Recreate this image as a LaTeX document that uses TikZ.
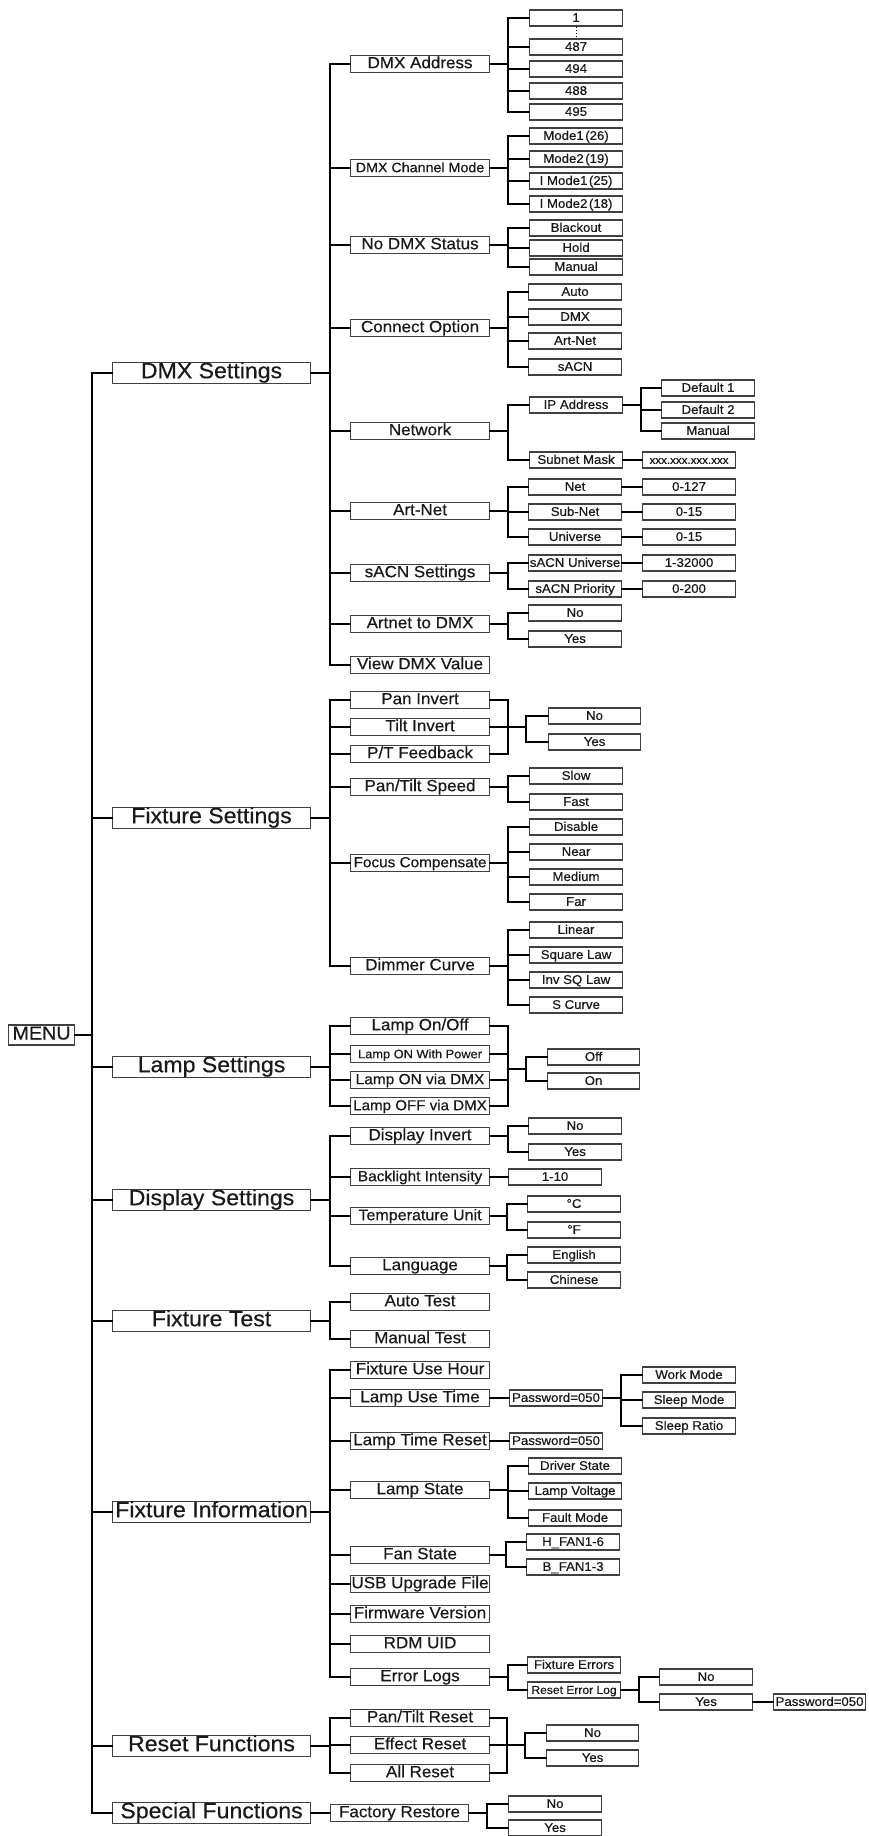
\documentclass[tikz,border=0pt]{standalone}
\usepackage{fontspec}
\setmainfont[FakeStretch=1.05,FakeBold=0.5]{Liberation Sans}
\usetikzlibrary{calc}
\tikzset{
  bx/.style={draw=black!75, line width=1.1pt, anchor=west, inner xsep=0pt, text=black!90, align=center},
  mainbox/.style={bx, minimum width=198pt, minimum height=21pt, inner ysep=0.5pt, text height=15.2pt, text depth=4.8pt, font=\fontsize{22}{22}\selectfont},
  menubox/.style={bx, minimum width=66pt, minimum height=20pt, inner ysep=1pt, text height=13.5pt, text depth=4.5pt, font=\fontsize{18.8}{18.8}\selectfont},
  lone/.style={bx, minimum width=139pt, minimum height=17pt, inner ysep=0.3pt, text height=12.4pt, text depth=4pt, font=\fontsize{16.2}{16.2}\selectfont},
  ltwo/.style={bx, minimum width=93pt, minimum height=16pt, inner ysep=0.3pt, text height=11.6pt, text depth=3.8pt, font=\fontsize{12.6}{12.6}\selectfont},
  conn/.style={draw=black, line width=1.4pt, line cap=rect},
}
\newcommand\fs[1]{\fontsize{#1}{#1}\selectfont}
% parent, branch x, first child, last child, all children
\newcommand\fork[5]{%
  \coordinate (#1-b) at (#2,0);
  \draw[conn] (#1.east) -- (#1-b |- #1.east);
  \draw[conn] (#1-b |- #3.west) -- (#1-b |- #4.west);
  \foreach \c in {#5} {\draw[conn] (#1-b |- \c.west) -- (\c.west);}
}
\begin{document}
\begin{tikzpicture}[x=1pt,y=-1pt]
\useasboundingbox (0,0) rectangle (868,1836);

% ---------- MENU and main level ----------
\node[menubox] (menu) at (8,1035) {MENU};
\node[mainbox] (dmxs) at (112,373) {DMX Settings};
\node[mainbox] (fixs) at (112,818) {Fixture Settings};
\node[mainbox] (lamps) at (112,1067) {Lamp Settings};
\node[mainbox] (disp) at (112,1200) {Display Settings};
\node[mainbox] (ftest) at (112,1321) {Fixture Test};
\node[mainbox] (finfo) at (112,1512) {Fixture Information};
\node[mainbox] (reset) at (112,1746) {Reset Functions};
\node[mainbox] (spec) at (112,1813) {Special Functions};
\fork{menu}{92}{dmxs}{spec}{dmxs,fixs,lamps,disp,ftest,finfo,reset,spec}

% ---------- DMX Settings ----------
\node[lone] (da) at (350,64) {DMX Address};
\node[lone, font=\fs{13.6}] (dcm) at (350,168) {DMX Channel Mode};
\node[lone] (nds) at (350,245) {No DMX Status};
\node[lone] (co) at (350,328) {Connect Option};
\node[lone] (net) at (350,431) {Network};
\node[lone] (an) at (350,511) {Art-Net};
\node[lone] (sacn) at (350,573) {sACN Settings};
\node[lone] (a2d) at (350,624) {Artnet to DMX};
\node[lone] (vdv) at (350,665) {View DMX Value};
\fork{dmxs}{330}{da}{vdv}{da,dcm,nds,co,net,an,sacn,a2d,vdv}

\node[ltwo] (a1) at (529,18) {1};
\node[ltwo] (a487) at (529,47) {487};
\node[ltwo] (a494) at (529,69) {494};
\node[ltwo] (a488) at (529,91) {488};
\node[ltwo] (a495) at (529,112) {495};
\draw[dash pattern=on 1pt off 2pt, line width=0.8pt] (a1.south) -- (a487.north);
\fork{da}{508}{a1}{a495}{a1,a487,a494,a488,a495}

\node[ltwo] (m1) at (529,136) {Mode1\kern1.5pt(26)};
\node[ltwo] (m2) at (529,159) {Mode2\kern1.5pt(19)};
\node[ltwo] (im1) at (529,181) {I Mode1\kern1.5pt(25)};
\node[ltwo] (im2) at (529,204) {I Mode2\kern1.5pt(18)};
\fork{dcm}{508}{m1}{im2}{m1,m2,im1,im2}

\node[ltwo] (bo) at (529,228) {Blackout};
\node[ltwo] (hold) at (529,248) {Hold};
\node[ltwo] (nman) at (529,267) {Manual};
\fork{nds}{508}{bo}{nman}{bo,hold,nman}

\node[ltwo] (cauto) at (528,292) {Auto};
\node[ltwo] (cdmx) at (528,317) {DMX};
\node[ltwo] (cart) at (528,341) {Art-Net};
\node[ltwo] (csacn) at (528,367) {sACN};
\fork{co}{508}{cauto}{csacn}{cauto,cdmx,cart,csacn}

\node[ltwo] (ip) at (529,405) {IP Address};
\node[ltwo] (sub) at (529,460) {Subnet Mask};
\fork{net}{508}{ip}{sub}{ip,sub}
\node[ltwo] (d1) at (661,388) {Default 1};
\node[ltwo] (d2) at (661,410) {Default 2};
\node[ltwo] (dman) at (661,431) {Manual};
\fork{ip}{641}{d1}{dman}{d1,d2,dman}
\node[ltwo, font=\fs{11}] (xxx) at (642,460) {xxx.xxx.xxx.xxx};
\draw[conn] (sub) -- (xxx);

\node[ltwo] (nnet) at (528,487) {Net};
\node[ltwo] (snet) at (528,512) {Sub-Net};
\node[ltwo] (univ) at (528,537) {Universe};
\fork{an}{508}{nnet}{univ}{nnet,snet,univ}
\node[ltwo] (v127) at (642,487) {0-127};
\node[ltwo] (v15a) at (642,512) {0-15};
\node[ltwo] (v15b) at (642,537) {0-15};
\draw[conn] (nnet) -- (v127);
\draw[conn] (snet) -- (v15a);
\draw[conn] (univ) -- (v15b);

\node[ltwo] (su) at (528,563) {sACN Universe};
\node[ltwo] (sp) at (528,589) {sACN Priority};
\fork{sacn}{508}{su}{sp}{su,sp}
\node[ltwo] (v32k) at (642,563) {1-32000};
\node[ltwo] (v200) at (642,589) {0-200};
\draw[conn] (su) -- (v32k);
\draw[conn] (sp) -- (v200);

\node[ltwo] (ano) at (528,613) {No};
\node[ltwo] (ayes) at (528,639) {Yes};
\fork{a2d}{508}{ano}{ayes}{ano,ayes}

% ---------- Fixture Settings ----------
\node[lone] (pi) at (350,700) {Pan Invert};
\node[lone] (ti) at (350,727) {Tilt Invert};
\node[lone] (ptf) at (350,754) {P/T Feedback};
\node[lone] (pts) at (350,787) {Pan/Tilt Speed};
\node[lone, font=\fs{14.6}] (fc) at (350,863) {Focus Compensate};
\node[lone] (dc) at (350,966) {Dimmer Curve};
\fork{fixs}{330}{pi}{dc}{pi,ti,ptf,pts,fc,dc}

\coordinate (pib) at (508,0);
\foreach \c in {pi,ti,ptf} {\draw[conn] (\c.east) -- (pib |- \c.east);}
\draw[conn] (pib |- pi.east) -- (pib |- ptf.east);
\node[ltwo, minimum width=92pt] (fno) at (548,716) {No};
\node[ltwo, minimum width=92pt] (fyes) at (548,742) {Yes};
\coordinate (pif) at (526,0);
\draw[conn] (pib |- ti.east) -- (pif |- ti.east);
\draw[conn] (pif |- fno.west) -- (pif |- fyes.west);
\foreach \c in {fno,fyes} {\draw[conn] (pif |- \c.west) -- (\c.west);}

\node[ltwo] (slow) at (529,776) {Slow};
\node[ltwo] (fast) at (529,802) {Fast};
\fork{pts}{508}{slow}{fast}{slow,fast}

\node[ltwo] (dis) at (529,827) {Disable};
\node[ltwo] (near) at (529,852) {Near};
\node[ltwo] (med) at (529,877) {Medium};
\node[ltwo] (far) at (529,902) {Far};
\fork{fc}{508}{dis}{far}{dis,near,med,far}

\node[ltwo] (lin) at (529,930) {Linear};
\node[ltwo] (sq) at (529,955) {Square Law};
\node[ltwo] (isq) at (529,980) {Inv SQ Law};
\node[ltwo] (sc) at (529,1005) {S Curve};
\fork{dc}{508}{lin}{sc}{lin,sq,isq,sc}

% ---------- Lamp Settings ----------
\node[lone] (loo) at (350,1026) {Lamp On/Off};
\node[lone, font=\fs{12.2}] (lwp) at (350,1054) {Lamp ON With Power};
\node[lone, font=\fs{14.7}] (lond) at (350,1080) {Lamp ON via DMX};
\node[lone, font=\fs{14.4}] (loffd) at (350,1106) {Lamp OFF via DMX};
\fork{lamps}{330}{loo}{loffd}{loo,lwp,lond,loffd}

\coordinate (lb) at (508,0);
\foreach \c in {loo,lwp,lond,loffd} {\draw[conn] (\c.east) -- (lb |- \c.east);}
\draw[conn] (lb |- loo.east) -- (lb |- loffd.east);
\coordinate (lmid) at (508,1069);
\coordinate (lf) at (526,0);
\draw[conn] (lmid) -- (lf |- lmid);
\node[ltwo, minimum width=92pt] (loff) at (547,1057) {Off};
\node[ltwo, minimum width=92pt] (lon) at (547,1081) {On};
\draw[conn] (lf |- loff.west) -- (lf |- lon.west);
\foreach \c in {loff,lon} {\draw[conn] (lf |- \c.west) -- (\c.west);}

% ---------- Display Settings ----------
\node[lone] (di) at (350,1136) {Display Invert};
\node[lone, font=\fs{14.7}] (bi) at (350,1177) {Backlight Intensity};
\node[lone, font=\fs{15.3}] (tu) at (350,1216) {Temperature Unit};
\node[lone] (lang) at (350,1266) {Language};
\fork{disp}{330}{di}{lang}{di,bi,tu,lang}

\node[ltwo] (dno) at (528,1126) {No};
\node[ltwo] (dyes) at (528,1152) {Yes};
\fork{di}{508}{dno}{dyes}{dno,dyes}
\node[ltwo] (b110) at (508,1177) {1-10};
\draw[conn] (bi) -- (b110);
\node[ltwo] (degc) at (527,1204) {°C};
\node[ltwo] (degf) at (527,1230) {°F};
\fork{tu}{507}{degc}{degf}{degc,degf}
\node[ltwo] (eng) at (527,1255) {English};
\node[ltwo] (chi) at (527,1280) {Chinese};
\fork{lang}{507}{eng}{chi}{eng,chi}

% ---------- Fixture Test ----------
\node[lone] (atest) at (350,1302) {Auto Test};
\node[lone] (mtest) at (350,1339) {Manual Test};
\fork{ftest}{330}{atest}{mtest}{atest,mtest}

% ---------- Fixture Information ----------
\node[lone] (fuh) at (350,1370) {Fixture Use Hour};
\node[lone] (lut) at (350,1398) {Lamp Use Time};
\node[lone] (ltr) at (350,1441) {Lamp Time Reset};
\node[lone] (ls) at (350,1490) {Lamp State};
\node[lone] (fans) at (350,1555) {Fan State};
\node[lone] (usb) at (350,1584) {USB Upgrade File};
\node[lone] (fw) at (350,1614) {Firmware Version};
\node[lone] (rdm) at (350,1644) {RDM UID};
\node[lone] (el) at (350,1677) {Error Logs};
\fork{finfo}{330}{fuh}{el}{fuh,lut,ltr,ls,fans,usb,fw,rdm,el}

\node[ltwo] (pw1) at (509,1398) {Password=050};
\draw[conn] (lut) -- (pw1);
\node[ltwo] (wm) at (642,1375) {Work Mode};
\node[ltwo] (sm) at (642,1400) {Sleep Mode};
\node[ltwo] (sr) at (642,1426) {Sleep Ratio};
\fork{pw1}{621}{wm}{sr}{wm,sm,sr}
\node[ltwo] (pw2) at (509,1441) {Password=050};
\draw[conn] (ltr) -- (pw2);

\node[ltwo] (drv) at (528,1466) {Driver State};
\node[ltwo] (lv) at (528,1491) {Lamp Voltage};
\node[ltwo] (fm) at (528,1518) {Fault Mode};
\fork{ls}{508}{drv}{fm}{drv,lv,fm}

\node[ltwo] (hf) at (526,1542) {H\_FAN1-6};
\node[ltwo] (bf) at (526,1567) {B\_FAN1-3};
\fork{fans}{506}{hf}{bf}{hf,bf}

\node[ltwo] (fe) at (527,1665) {Fixture Errors};
\node[ltwo, font=\fs{11.5}] (rel) at (527,1690) {Reset Error Log};
\fork{el}{508}{fe}{rel}{fe,rel}
\node[ltwo] (rno) at (659,1677) {No};
\node[ltwo] (ryes) at (659,1702) {Yes};
\fork{rel}{639}{rno}{ryes}{rno,ryes}
\node[ltwo, minimum width=92pt] (pw3) at (773,1702) {Password=050};
\draw[conn] (ryes) -- (pw3);

% ---------- Reset Functions ----------
\node[lone] (ptr) at (350,1718) {Pan/Tilt Reset};
\node[lone] (er) at (350,1745) {Effect Reset};
\node[lone] (ar) at (350,1773) {All Reset};
\fork{reset}{330}{ptr}{ar}{ptr,er,ar}
\coordinate (rb) at (507,0);
\foreach \c in {ptr,er,ar} {\draw[conn] (\c.east) -- (rb |- \c.east);}
\draw[conn] (rb |- ptr.east) -- (rb |- ar.east);
\coordinate (rf) at (525,0);
\draw[conn] (rb |- er.east) -- (rf |- er.east);
\node[ltwo, minimum width=92pt] (rsno) at (546,1733) {No};
\node[ltwo, minimum width=92pt] (rsyes) at (546,1758) {Yes};
\draw[conn] (rf |- rsno.west) -- (rf |- rsyes.west);
\foreach \c in {rsno,rsyes} {\draw[conn] (rf |- \c.west) -- (\c.west);}

% ---------- Special Functions ----------
\node[lone, minimum width=138pt] (fr) at (330,1813) {Factory Restore};
\draw[conn] (spec) -- (fr);
\node[ltwo] (sno) at (508,1804) {No};
\node[ltwo] (syes) at (508,1828) {Yes};
\fork{fr}{487}{sno}{syes}{sno,syes}
\end{tikzpicture}
\end{document}
